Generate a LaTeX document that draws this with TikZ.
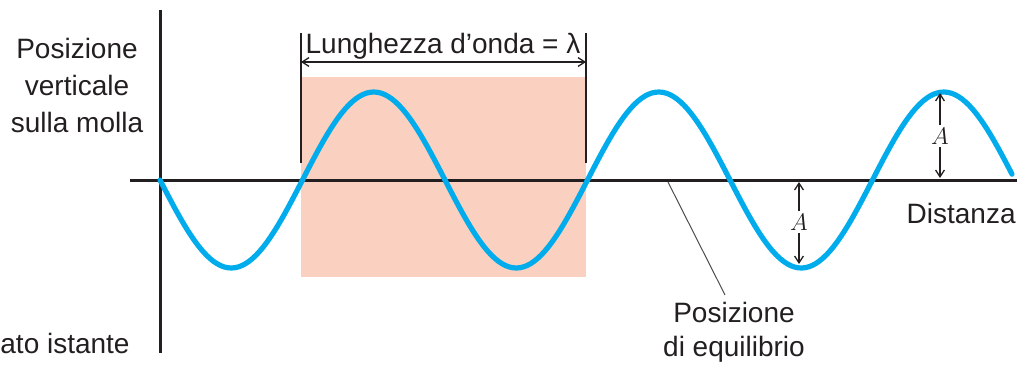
\documentclass[tikz,border=0pt]{standalone}
\usepackage{fontspec}
\setmainfont{Liberation Sans}
\usetikzlibrary{arrows.meta}
\definecolor{wavecyan}{RGB}{0,172,236}
\definecolor{boxpink}{RGB}{250,208,192}
\definecolor{inkdark}{RGB}{35,31,32}
\tikzset{
  axisline/.style={draw=inkdark, line width=1.5pt},
  waveline/.style={draw=wavecyan, line width=2.6pt},
  guideline/.style={draw=inkdark, line width=0.8pt},
  leader/.style={draw=inkdark!80, line width=0.5pt},
  dimline/.style={{Straight Barb[length=3.4pt,width=4.4pt]}-{Straight Barb[length=3.4pt,width=4.4pt]}, draw=inkdark, line width=0.65pt},
  ampline/.style={-{Straight Barb[length=3.4pt,width=4.4pt]}, draw=inkdark, line width=0.65pt},
  figlabel/.style={font=\fontsize{14}{18.5}\selectfont, text=inkdark, inner sep=0pt},
  amplabel/.style={font=\fontsize{13}{15}\selectfont, text=inkdark, inner sep=1.2pt}
}

\begin{document}
\begin{tikzpicture}[x=0.5pt,y=-0.5pt]
  \useasboundingbox (0,0) rectangle (1017,364);

  % one wavelength
  \fill[boxpink] (301,77) rectangle (586,277);

  % axes
  \coordinate (xStart) at (130,180);
  \coordinate (xEnd) at (1017,180);
  \coordinate (yTop) at (160,10);
  \coordinate (yBottom) at (160,353);
  \draw[axisline] (xStart) -- (xEnd);
  \draw[axisline] (yTop) -- (yBottom);

  % wave
  \draw[waveline, line cap=round] plot[domain=160:1012, samples=240] (\x, {180+88*sin((\x-160)/285*360)});

  % wavelength marker
  \coordinate (lamLeftTop) at (301,33);
  \coordinate (lamLeftBot) at (301,163);
  \coordinate (lamRightTop) at (586,33);
  \coordinate (lamRightBot) at (586,163);
  \coordinate (lamLeft) at (301,62);
  \coordinate (lamRight) at (586,62);
  \draw[guideline] (lamLeftTop) -- (lamLeftBot);
  \draw[guideline] (lamRightTop) -- (lamRightBot);
  \draw[dimline] (lamLeft) -- (lamRight);
  \node[figlabel, anchor=base] (lamLabel) at (443,53) {Lunghezza d'onda = λ};

  % amplitudes
  \node[amplabel] (ampTop) at (940,136) {$A$};
  \coordinate (crestTop) at (940,93);
  \coordinate (crestAxis) at (940,178);
  \draw[ampline] (ampTop.north) -- (crestTop);
  \draw[ampline] (ampTop.south) -- (crestAxis);

  \node[amplabel] (ampLow) at (799,222) {$A$};
  \coordinate (troughAxis) at (799,182);
  \coordinate (troughBot) at (799,264);
  \draw[ampline] (ampLow.north) -- (troughAxis);
  \draw[ampline] (ampLow.south) -- (troughBot);

  % labels
  \node[figlabel, align=center, anchor=north] (vertLabel) at (77,38) {Posizione\\verticale\\sulla molla};
  \node[figlabel, anchor=base east] (distLabel) at (1016,223) {Distanza};
  \node[figlabel, anchor=base west] (timeLabel) at (0,353) {ato istante};
  \node[figlabel, align=center, anchor=north, font=\fontsize{14}{17}\selectfont] (eqLabel) at (734,302) {Posizione\\di equilibrio};
  \coordinate (eqPoint) at (668,182);
  \coordinate (eqEnd) at (725,295);
  \draw[leader] (eqPoint) -- (eqEnd);
\end{tikzpicture}
\end{document}
